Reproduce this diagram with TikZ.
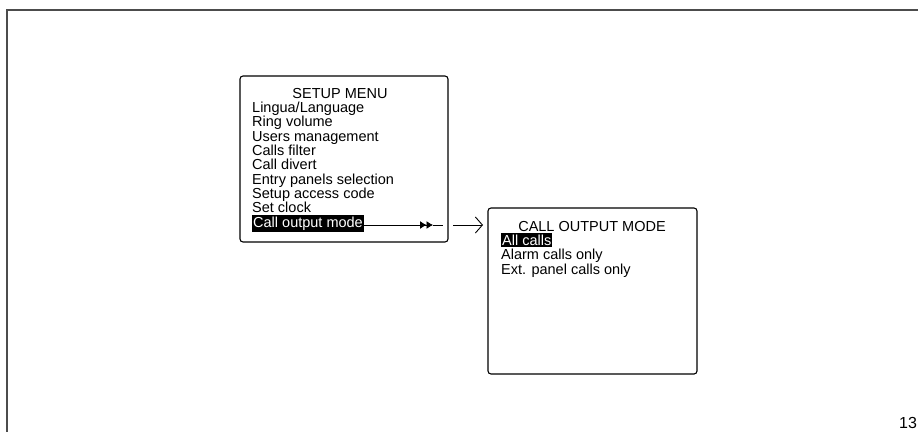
\documentclass[tikz,border=0pt]{standalone}
\usepackage{fontspec}
\setmainfont{Liberation Sans}
\usetikzlibrary{arrows.meta}
\colorlet{frameGray}{black!70!white}

\begin{document}
\begin{tikzpicture}[x=1pt,y=-1pt,
    menuline/.style={anchor=base west,inner sep=0pt,font=\fontsize{14.5}{14.5}\selectfont},
    menuhead/.style={anchor=base,inner sep=0pt,font=\fontsize{14.5}{14.5}\selectfont},
    selitem/.style={menuline,fill=black,text=white,inner xsep=1pt,inner ysep=1.5pt},
    screen/.style={draw,line width=1.1pt,rounded corners=3pt}]
    \useasboundingbox (0,0) rectangle (918,431);
    % page frame
    \draw[frameGray,line width=1.8pt] (7,445) -- (7,10) -- (930,10);
    % setup menu
    \draw[screen] (240,76) rectangle (448,242);
    \node[menuhead] (setuphead) at (340,98) {SETUP MENU};
    \foreach \txt [count=\i] in {Lingua/Language,Ring volume,Users management,Calls filter,Call divert,Entry panels selection,Setup access code,Set clock}
        \node[menuline] (item\i) at (252,98+14.35*\i) {\txt};
    \node[selitem] (callout) at (252,227) {Call output mode};
    % call output mode screen
    \draw[screen] (488,208) rectangle (697,374);
    \node[menuhead] (outhead) at (592,231) {CALL OUTPUT MODE};
    \node[selitem] (allcalls) at (501,245) {All calls};
    \node[menuline] (alarm) at (501,259.5) {Alarm calls only};
    \node[menuline] (extpanel) at (501,274) {Ext. panel calls only};
    % arrows
    \coordinate (tipA) at (433,225);
    \coordinate (lineend) at (443,225);
    \coordinate (startB) at (453,225);
    \coordinate (tipB) at (483,225);
    \draw[line width=0.9pt,-{Latex[length=6.5pt,width=8pt]Latex[length=6.5pt,width=8pt]}] (callout.east |- tipA) -- (tipA);
    \draw[line width=0.9pt] (tipA) -- (lineend);
    \draw[line width=0.9pt,-{Straight Barb[length=7pt,width=16pt]}] (startB) -- (tipB);
    \node[anchor=base west,inner sep=0pt,font=\fontsize{16}{16}\selectfont] (pagenum) at (899,428) {13};
\end{tikzpicture}
\end{document}
